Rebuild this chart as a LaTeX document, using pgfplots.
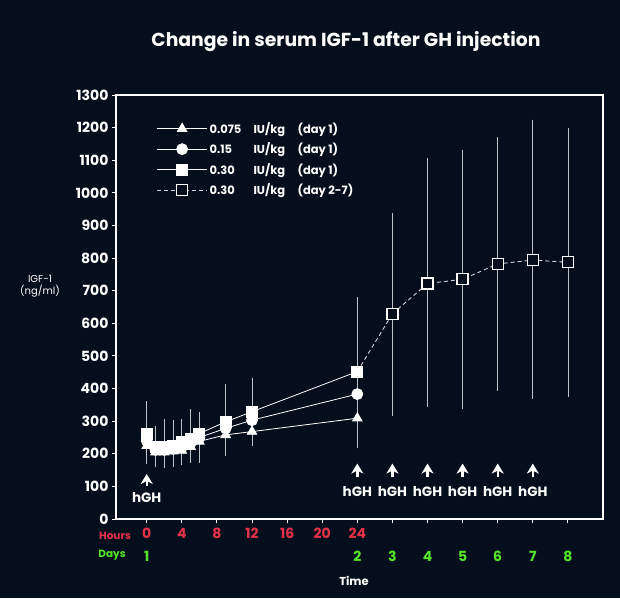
\documentclass[border=0pt]{standalone}
\usepackage{pgfplots}
\pgfplotsset{compat=1.18}
\usepackage{fontspec}
\setmainfont{Poppins}
\usetikzlibrary{arrows.meta}
\definecolor{bg}{HTML}{050E1D}
\definecolor{hr}{HTML}{E5324A}
\definecolor{dy}{HTML}{55E62A}
\definecolor{eb}{HTML}{BFC3C8}
\definecolor{dl}{HTML}{D0D4D9}
\pgfplotsset{
  myerr/.style={
    error bars/y dir=both,
    error bars/y explicit,
    error bars/error bar style={eb, line width=0.8pt, solid},
    error bars/error mark options={eb, line width=0.8pt, mark size=2.5pt, solid},
  }
}
\begin{document}
\begin{tikzpicture}[x=1pt,y=1pt]
\fill[bg] (-116,-79) rectangle (504,519);
\begin{axis}[
  at={(0,0)}, anchor=south west,
  scale only axis, width=487pt, height=424pt,
  xmin=-3.5, xmax=52, ymin=0, ymax=1300,
  clip=false,
  axis line style={white, line width=1.5pt},
  ytick={0,100,...,1300},
  xtick={0,4,...,48},
  xticklabels={0,4,8,12,16,20,24,,,,,,},
  tick style={white, line width=1pt},
  major tick length=4pt,
  tick align=outside,
  ytick pos=left, xtick pos=bottom,
  /pgf/number format/assume math mode=true,
  /pgf/number format/1000 sep={},
  yticklabel style={font=\fontsize{14}{14}\selectfont\bfseries, text=white},
  xticklabel style={font=\fontsize{14}{14}\selectfont\bfseries, text=hr, yshift=-2pt},
  extra x ticks={0,24,28,32,36,40,44,48},
  extra x tick labels={1,2,3,4,5,6,7,8},
  extra x tick style={major tick length=0pt, xticklabel style={text=dy, yshift=-27pt}},
  legend style={at={(0.077,0.945)}, anchor=north west, draw=none, fill=none,
    text=white, font=\fontsize{11.5}{11.5}\selectfont\bfseries, row sep=4pt,
    cells={anchor=west}},
  legend image code/.code={\draw[mark repeat=2,mark phase=2,#1] plot coordinates {(0pt,0pt) (25pt,0pt) (50pt,0pt)};},
]
% dashed connector from day-1 0.30 point to day 3
\addplot[dl, line width=0.9pt, dash pattern=on 4pt off 3pt, forget plot] coordinates {(24,452) (28,629)};

\addplot[myerr, white, line width=0.8pt, mark=triangle*, mark size=5.5pt, mark options={fill=white, solid}]
coordinates {
(0,225) += (0,20) -= (0,50)
(1,205) += (0,15) -= (0,39)
(2,205) += (0,15) -= (0,40)
(3,208) += (0,15) -= (0,40)
(4,210) += (0,15) -= (0,38)
(5,222) += (0,15) -= (0,44)
(6,238) += (0,15) -= (0,58)
(9,258) += (0,20) -= (0,56)
(12,268) += (0,20) -= (0,36)
(24,309) += (0,30) -= (0,85)
};
\addlegendentry{\makebox[44pt][l]{0.075}\makebox[44pt][l]{IU/kg}(day 1)}

\addplot[myerr, white, line width=0.8pt, mark=*, mark size=5.5pt, mark options={fill=white, solid}]
coordinates {
(0,240) += (0,25) -= (0,25)
(1,212) += (0,25) -= (0,25)
(2,212) += (0,25) -= (0,25)
(3,215) += (0,25) -= (0,25)
(4,220) += (0,25) -= (0,25)
(5,232) += (0,25) -= (0,25)
(6,250) += (0,25) -= (0,25)
(9,278) += (0,30) -= (0,30)
(12,303) += (0,30) -= (0,30)
(24,383) += (0,30) -= (0,30)
};
\addlegendentry{\makebox[44pt][l]{0.15}\makebox[44pt][l]{IU/kg}(day 1)}

\addplot[myerr, white, line width=0.8pt, mark=square*, mark size=5.5pt, mark options={fill=white, solid}]
coordinates {
(0,262) += (0,91) -= (0,40)
(1,220) += (0,58) -= (0,30)
(2,222) += (0,76) -= (0,30)
(3,225) += (0,71) -= (0,30)
(4,235) += (0,63) -= (0,30)
(5,245) += (0,86) -= (0,30)
(6,262) += (0,59) -= (0,30)
(9,298) += (0,108) -= (0,40)
(12,329) += (0,97) -= (0,40)
(24,452) += (0,222) -= (0,40)
};
\addlegendentry{\makebox[44pt][l]{0.30}\makebox[44pt][l]{IU/kg}(day 1)}

\addplot[myerr, dl, line width=0.9pt, dash pattern=on 4pt off 3pt, mark=square*, mark size=5.5pt, mark options={fill=bg, draw=white, line width=1.3pt, solid}]
coordinates {
(28,629) += (0,301) -= (0,306)
(32,722) += (0,378) -= (0,370)
(36,735) += (0,388) -= (0,389)
(40,782) += (0,381) -= (0,382)
(44,794) += (0,423) -= (0,419)
(48,787) += (0,403) -= (0,404)
};
\addlegendentry{\makebox[44pt][l]{0.30}\makebox[44pt][l]{IU/kg}(day 2-7)}

% hGH arrows
\draw[white, line width=2.4pt, -{Stealth[length=10pt,width=12pt,inset=3pt]}] (axis cs:0,102) -- (axis cs:0,138);
\node[white, font=\fontsize{13.5}{13.5}\selectfont\bfseries] at (axis cs:0,67) {hGH};
\pgfplotsinvokeforeach{24,28,32,36,40,44}{
  \draw[white, line width=2.4pt, -{Stealth[length=10pt,width=12pt,inset=3pt]}] (axis cs:#1,128) -- (axis cs:#1,170);
  \node[white, font=\fontsize{13.5}{13.5}\selectfont\bfseries] at (axis cs:#1,83) {hGH};
}
\end{axis}
\node[white, font=\fontsize{18.8}{18.8}\selectfont\bfseries] at (230,477) {Change in serum IGF-1 after GH injection};
\node[white, font=\fontsize{10}{12}\selectfont, align=center] at (-76,233) {IGF-1\\(ng/ml)};
\node[hr, font=\fontsize{10.5}{10.5}\selectfont\bfseries] at (-1,-17) {Hours};
\node[dy, font=\fontsize{10.5}{10.5}\selectfont\bfseries] at (-4,-36) {Days};
\node[white, font=\fontsize{11.5}{11.5}\selectfont\bfseries] at (238,-62) {Time};
\end{tikzpicture}
\end{document}
